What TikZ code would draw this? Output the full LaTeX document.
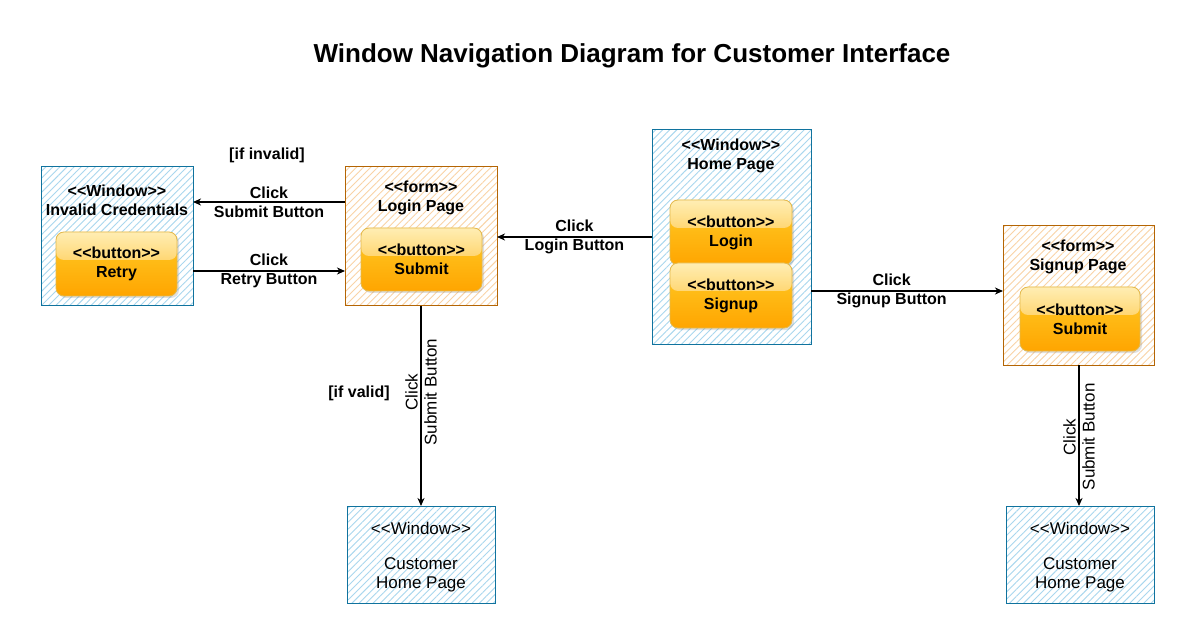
\documentclass[tikz,border=0pt]{standalone}
\usepackage{fontspec}
\setmainfont{Liberation Sans}
\usetikzlibrary{arrows.meta,patterns.meta,shadows,fadings,calc}
\definecolor{winb}{HTML}{10739E}
\definecolor{winh}{HTML}{A9D7EE}
\definecolor{formb}{HTML}{B46504}
\definecolor{formh}{HTML}{F9D3A6}
\definecolor{btnb}{HTML}{D79B00}
\definecolor{btntop}{HTML}{FFCD28}
\definecolor{btnbot}{HTML}{FFA500}
\tikzfading[name=glassfade, top color=transparent!35, bottom color=transparent!92]
\newcommand\llt{<\kern0pt<}
\newcommand\ggt{>\kern0pt>}
\begin{document}
\begin{tikzpicture}[x=1pt,y=-1pt,
  winbox/.style={draw=winb, line width=1pt, inner sep=0pt, outer sep=0pt,
    pattern={Lines[angle=45,distance=5pt,line width=0.9pt]}, pattern color=winh},
  formbox/.style={draw=formb, line width=1pt, inner sep=0pt, outer sep=0pt,
    pattern={Lines[angle=45,distance=5pt,line width=0.9pt]}, pattern color=formh},
  btn/.style={draw=btnb!70, line width=0.8pt, rounded corners=8pt, inner sep=0pt, outer sep=0pt,
    top color=btntop, bottom color=btnbot, align=center,
    font=\fontsize{16}{19}\selectfont\bfseries,
    minimum width=121pt, minimum height=64pt,
    drop shadow={shadow xshift=2pt, shadow yshift=-2pt, opacity=0.25},
    path picture={\fill[white, path fading=glassfade]
      (path picture bounding box.north west) rectangle ($(path picture bounding box.north east)+(0,28)$);}},
  ttl/.style={align=center, inner sep=0pt, font=\fontsize{16}{19}\selectfont\bfseries},
  ttlr/.style={align=center, inner sep=0pt, font=\fontsize{17}{19}\selectfont},
  elab/.style={align=center, inner sep=0pt, font=\fontsize{16}{19}\selectfont\bfseries},
  vlab/.style={align=center, inner sep=0pt, rotate=90, font=\fontsize{17}{19}\selectfont},
  arr/.style={line width=1.6pt, -{Stealth[length=8pt,width=7pt,inset=2.5pt]}}
]
\useasboundingbox (0,0) rectangle (1194,644);
\fill[white] (0,0) rectangle (1194,644);

% title
\node[font=\fontsize{26}{30}\selectfont\bfseries] (title) at (632,56) {Window Navigation Diagram for Customer Interface};

% containers
\node[winbox, minimum width=152pt, minimum height=139pt] (inv) at (117,236.5) {};
\node[formbox, minimum width=152pt, minimum height=139pt] (login) at (421,236.5) {};
\node[winbox, minimum width=159pt, minimum height=214pt] (home) at (731.5,237) {};
\node[formbox, minimum width=151pt, minimum height=139pt] (signup) at (1078.5,295.5) {};
\node[winbox, minimum width=148pt, minimum height=97pt] (cust1) at (421,554.5) {};
\node[winbox, minimum width=148pt, minimum height=97pt] (cust2) at (1080,554.5) {};

% container titles
\node[ttl] (invT) at (117,200) {\llt Window\ggt\\Invalid Credentials};
\node[ttl] (loginT) at (421,197.5) {\llt form\ggt\\Login Page};
\node[ttl] (homeT) at (731,155.5) {\llt Window\ggt\\Home Page};
\node[ttl] (signupT) at (1078,256.5) {\llt form\ggt\\Signup Page};
\node[ttlr] (cust1T) at (421,528) {\llt Window\ggt};
\node[ttlr] (cust1N) at (421,575) {Customer\\Home Page};
\node[ttlr] (cust2T) at (1080,528) {\llt Window\ggt};
\node[ttlr] (cust2N) at (1080,575) {Customer\\Home Page};

% buttons
\node[btn] (retry) at (116.5,264) {\llt button\ggt\\Retry};
\node[btn, minimum height=63pt] (lsub) at (421.5,259.5) {\llt button\ggt\\Submit};
\node[btn, minimum width=122pt, minimum height=65pt] (blogin) at (731,232.5) {\llt button\ggt\\Login};
\node[btn, minimum width=122pt, minimum height=65pt] (bsignup) at (731,295.5) {\llt button\ggt\\Signup};
\node[btn, minimum width=120pt] (ssub) at (1080,319) {\llt button\ggt\\Submit};

% helper rows
\coordinate (r202) at (0,202);
\coordinate (r271) at (0,271);
\coordinate (r237) at (0,237);
\coordinate (r291) at (0,291);

% connectors
\draw[arr] (login.west |- r202) -- node[elab] (l1) {Click\\Submit Button} (inv.east |- r202);
\draw[arr] (inv.east |- r271) -- node[elab] (l2) {Click\\Retry Button} (login.west |- r271);
\draw[arr] (home.west |- r237) -- node[elab] (l3) {Click\\Login Button} (login.east |- r237);
\draw[arr] (home.east |- r291) -- node[elab, pos=0.42] (l4) {Click\\Signup Button} (signup.west |- r291);
\draw[arr] (login.south) -- node[vlab, pos=0.43] (l5) {Click\\Submit Button} (cust1.north);
\draw[arr] (signup.south -| 1079,0) -- node[vlab, pos=0.51] (l6) {Click\\Submit Button} (cust2.north -| 1079,0);

% guards
\node[elab] (g1) at (267,155) {[if invalid]};
\node[elab] (g2) at (359,393) {[if valid]};
\end{tikzpicture}
\end{document}
